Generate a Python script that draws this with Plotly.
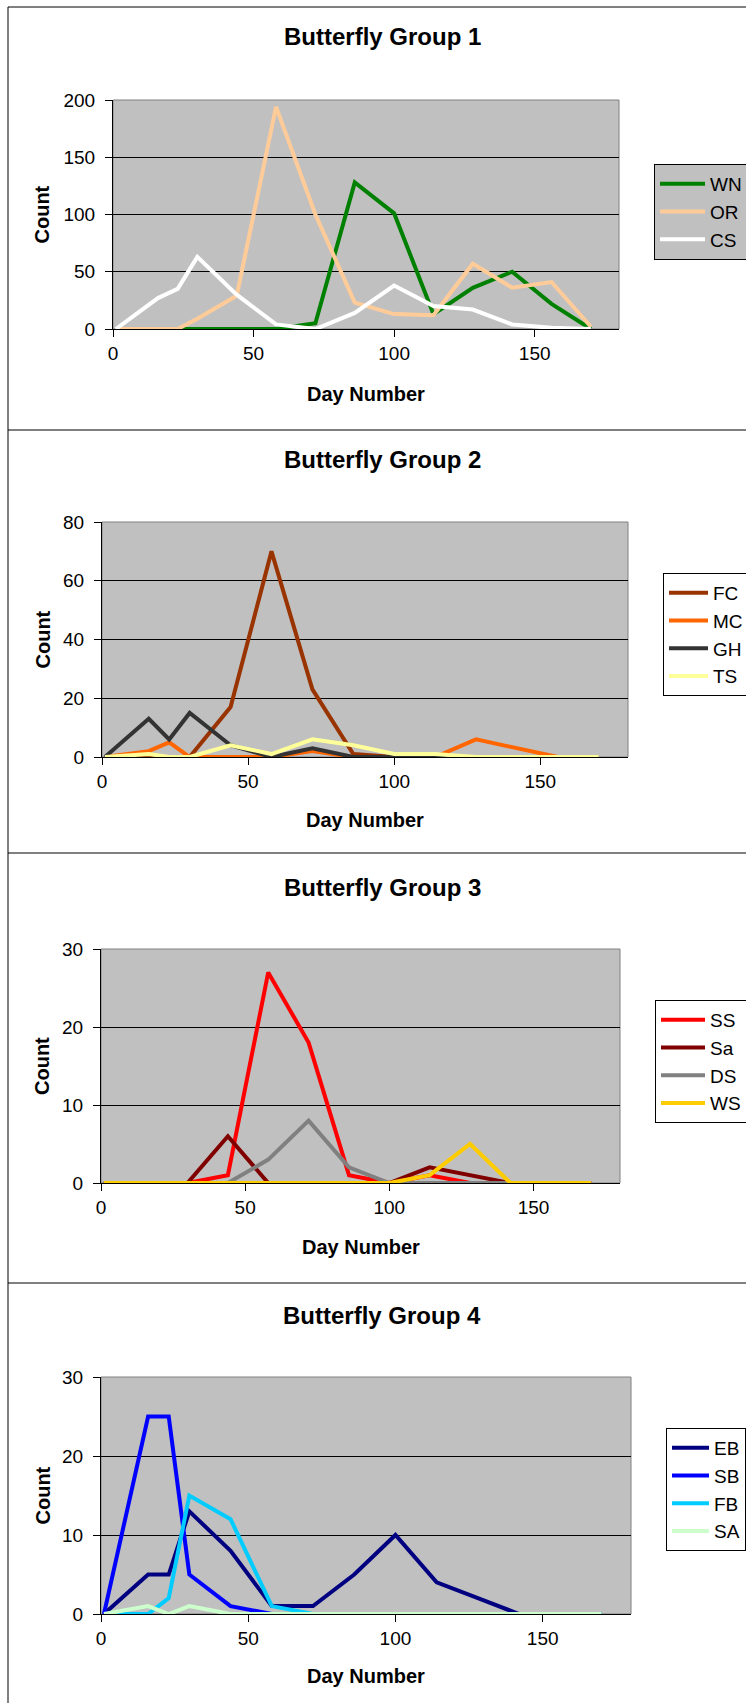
import plotly.graph_objects as go

W, H = 746, 1703

days = [1, 16, 23, 30, 44, 58, 72, 86, 100, 114, 128, 142, 156, 170]

# Group 1
WN = [0, 0, 0, 0, 0, 0, 5, 128, 101, 13, 36, 50, 22, 0]
OR = [0, 0, 0, 9, 29, 194, 100, 23, 13, 12, 57, 36, 41, 2]
CS = [0, 27, 35, 63, 30, 4, 0, 14, 38, 20, 17, 4, 1, 0]
# Group 2
FC = [0, 0, 0, 0, 17, 70, 23, 1, 0, 0, 0, 0, 0, 0]
MC = [0, 2, 5, 0, 0, 0, 2, 0, 0, 0, 6, 3, 0, 0]
GH = [0, 13, 6, 15, 4, 0, 3, 0, 0, 0, 0, 0, 0, 0]
TS = [0, 1, 0, 0, 4, 1, 6, 4, 1, 1, 0, 0, 0, 0]
# Group 3
SS = [0, 0, 0, 0, 1, 27, 18, 1, 0, 1, 0, 0, 0, 0]
Sa = [0, 0, 0, 0, 6, 0, 0, 0, 0, 2, 1, 0, 0, 0]
DS = [0, 0, 0, 0, 0, 3, 8, 2, 0, 0, 0, 0, 0, 0]
WS = [0, 0, 0, 0, 0, 0, 0, 0, 0, 1, 5, 0, 0, 0]
# Group 4
EB = [0, 5, 5, 13, 8, 1, 1, 5, 10, 4, 2, 0, 0, 0]
SB = [0, 25, 25, 5, 1, 0, 0, 0, 0, 0, 0, 0, 0, 0]
FB = [0, 0, 2, 15, 12, 1, 0, 0, 0, 0, 0, 0, 0, 0]
SA = [0, 1, 0, 1, 0, 0, 0, 0, 0, 0, 0, 0, 0, 0]

titles = ["Butterfly Group 1", "Butterfly Group 2", "Butterfly Group 3", "Butterfly Group 4"]
x_ticks = [0, 50, 100, 150]
y_ranges = [[0, 200], [0, 80], [0, 30], [0, 30]]
y_dticks = [50, 20, 10, 10]

groups = [
    [("WN", WN, "#008000"), ("OR", OR, "#FFCC99"), ("CS", CS, "#FFFFFF")],
    [("FC", FC, "#993300"), ("MC", MC, "#FF6600"), ("GH", GH, "#333333"), ("TS", TS, "#FFFF99")],
    [("SS", SS, "#FF0000"), ("Sa", Sa, "#800000"), ("DS", DS, "#808080"), ("WS", WS, "#FFCC00")],
    [("EB", EB, "#000080"), ("SB", SB, "#0000FF"), ("FB", FB, "#00CCFF"), ("SA", SA, "#CCFFCC")],
]

# layout geometry in pixels
plots = [  # x0, x1, y0(top), y1(bottom)
    (113, 619, 100, 329),
    (102, 628, 522, 757),
    (101, 620, 949, 1183),
    (101, 631, 1377, 1614),
]
title_y = [36, 459, 887, 1315]
xtitle_y = [394, 820, 1247, 1676]
# legend: left, top, background, symbol width
legend_pos = [(654, 164, "#C0C0C0", 45), (663, 573, "#FFFFFF", 39),
              (655, 1000, "#FFFFFF", 44), (666, 1428, "#FFFFFF", 37)]
separators = [7, 430, 853, 1283]

FONT = "Liberation Sans, Arial, sans-serif"

fig = go.Figure()
annotations = []
shapes = []

for i in range(4):
    x0, x1, y0, y1 = plots[i]
    sfx = "" if i == 0 else str(i + 1)
    xa = "x" + sfx
    ya = "y" + sfx
    lg = "legend" + sfx
    for name, vals, col in groups[i]:
        fig.add_trace(go.Scatter(
            x=days, y=vals, name=name, mode="lines",
            line=dict(color=col, width=4),
            xaxis=xa, yaxis=ya, legend=lg,
        ))
    fig.update_layout({
        "xaxis" + sfx: dict(
            domain=[x0 / W, x1 / W], range=[0, 180], anchor=ya,
            tickvals=x_ticks, ticks="outside", ticklen=7, tickcolor="black",
            showline=True, linecolor="black", linewidth=1, showgrid=False,
            zeroline=False, tickfont=dict(size=19, color="black", family=FONT),
            fixedrange=True,
        ),
        "yaxis" + sfx: dict(
            domain=[1 - y1 / H, 1 - y0 / H], range=y_ranges[i], anchor=xa,
            dtick=y_dticks[i], tick0=0, ticks="outside", ticklen=7, tickcolor="black",
            showline=True, linecolor="black", linewidth=1, showgrid=True,
            gridcolor="black", gridwidth=1, zeroline=False,
            tickfont=dict(size=19, color="black", family=FONT),
            ticklabelstandoff=6, fixedrange=True,
        ),
        lg: dict(
            x=legend_pos[i][0] / W, y=1 - legend_pos[i][1] / H,
            xanchor="left", yanchor="top",
            bgcolor=legend_pos[i][2], bordercolor="black", borderwidth=1,
            font=dict(size=19, color="black", family=FONT),
            tracegroupgap=0, itemwidth=legend_pos[i][3],
        ),
    })
    # plot area border (grey top/right)
    shapes.append(dict(type="rect", xref="paper", yref="paper",
                       x0=x0 / W, x1=x1 / W, y0=1 - y1 / H, y1=1 - y0 / H,
                       line=dict(color="#808080", width=1), layer="below"))
    annotations.append(dict(text="<b>%s</b>" % titles[i], x=382 / W, y=1 - title_y[i] / H,
                            xref="paper", yref="paper", showarrow=False,
                            xanchor="center", yanchor="middle",
                            font=dict(size=24, color="black", family=FONT)))
    annotations.append(dict(text="<b>Day Number</b>", x=((x0 + x1) / 2 - 0) / W, y=1 - xtitle_y[i] / H,
                            xref="paper", yref="paper", showarrow=False,
                            xanchor="center", yanchor="middle",
                            font=dict(size=20, color="black", family=FONT)))
    annotations.append(dict(text="<b>Count</b>", x=42 / W, y=1 - (y0 + y1) / 2 / H,
                            xref="paper", yref="paper", showarrow=False, textangle=-90,
                            xanchor="center", yanchor="middle",
                            font=dict(size=20, color="black", family=FONT)))

# outer frame and separators
for s in separators:
    shapes.append(dict(type="line", xref="paper", yref="paper",
                       x0=8 / W, x1=1, y0=1 - s / H, y1=1 - s / H,
                       line=dict(color="black", width=1)))
shapes.append(dict(type="line", xref="paper", yref="paper",
                   x0=8 / W, x1=8 / W, y0=0, y1=1 - separators[0] / H,
                   line=dict(color="black", width=1)))

fig.update_layout(
    width=W, height=H,
    margin=dict(l=0, r=0, t=0, b=0, autoexpand=False),
    paper_bgcolor="white", plot_bgcolor="#C0C0C0",
    annotations=annotations, shapes=shapes,
    font=dict(family=FONT, color="black"),
    showlegend=True,
)

fig.write_html("out.html", config={"displayModeBar": False},
               post_script="document.body.style.margin='0px';document.body.style.overflow='hidden';")
